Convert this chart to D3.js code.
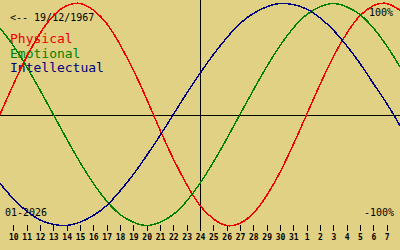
<!DOCTYPE html>
<html>
<head>
<meta charset="utf-8">
<script src="https://cdn.jsdelivr.net/npm/d3@7"></script>
<style>
  body { margin: 0; background: #e0d184; }
  svg { display: block; }
  text { font-family: "DejaVu Sans Mono", monospace; }
</style>
</head>
<body>
<div id="chart"></div>
<script>
// biorhythm for 24/01/2026, born 19/12/1967
const birthLabel = "<-- 19/12/1967";
const monthLabel = "01-2026";
const seriesNames = ["Physical", "Emotional", "Intellectual"];
const seriesColors = ["#ee0000", "#008000", "#000080"];
// tick labels (day of month), 10 Jan .. 7 Feb
const dayLabels = ["10","11","12","13","14","15","16","17","18","19","20","21","22","23","24",
  "25","26","27","28","29","30","31","1","2","3","4","5","6","7"];
// values per day, 9 Jan .. 8 Feb (one day past each edge)
const physical = [0, 0.27, 0.52, 0.73, 0.89, 0.98, 1.00, 0.94, 0.82, 0.63, 0.40, 0.14, -0.14, -0.40, -0.63,
  -0.82, -0.94, -1.00, -0.98, -0.89, -0.73, -0.52, -0.27, 0, 0.27, 0.52, 0.73, 0.89, 0.98, 1.00, 0.94];
const emotional = [0.78, 0.62, 0.43, 0.22, 0, -0.22, -0.43, -0.62, -0.78, -0.90, -0.97, -1.00, -0.97, -0.90, -0.78,
  -0.62, -0.43, -0.22, 0, 0.22, 0.43, 0.62, 0.78, 0.90, 0.97, 1.00, 0.97, 0.90, 0.78, 0.62, 0.43];
const intellectual = [-0.62, -0.76, -0.87, -0.95, -0.99, -1.00, -0.97, -0.91, -0.82, -0.69, -0.54, -0.37, -0.19, 0, 0.19,
  0.37, 0.54, 0.69, 0.82, 0.91, 0.97, 1.00, 0.99, 0.95, 0.87, 0.76, 0.62, 0.46, 0.28, 0.10, -0.10];
const todayIndex = 14;

const width = 400, height = 250;

const x = d3.scaleLinear().domain([-1, 29]).range([0, 400]);
const y = d3.scaleLinear().domain([-1, 1]).range([225.5, 3.5]);

const svg = d3.select("#chart").append("svg")
  .attr("width", width)
  .attr("height", height);

svg.append("rect").attr("width", width).attr("height", height).attr("fill", "#e0d184");

// zero line and today line
svg.append("line")
  .attr("x1", 0).attr("x2", width)
  .attr("y1", Math.round(y(0)) + 0.5).attr("y2", Math.round(y(0)) + 0.5)
  .attr("stroke", "black");
svg.append("line")
  .attr("x1", x(todayIndex) + 0.5).attr("x2", x(todayIndex) + 0.5)
  .attr("y1", 0).attr("y2", 231)
  .attr("stroke", "black");

// day axis
const axis = d3.axisBottom(x)
  .tickValues(d3.range(dayLabels.length))
  .tickFormat(i => dayLabels[i])
  .tickSize(6)
  .tickPadding(3);

const ax = svg.append("g")
  .attr("transform", "translate(0,225)")
  .call(axis);
ax.select(".domain").remove();
ax.selectAll("line").attr("stroke", "black").attr("shape-rendering", "crispEdges");
ax.selectAll("text")
  .attr("fill", "black")
  .style("font-size", "8px")
  .style("font-weight", "bold")
  .style("font-family", "'DejaVu Sans Mono', monospace");

// labels
svg.append("text").attr("x", 10).attr("y", 21).style("font-size", "10px").text(birthLabel);
svg.append("text").attr("x", 393).attr("y", 16).attr("text-anchor", "end").style("font-size", "10px").text("100%");
svg.append("text").attr("x", 394).attr("y", 216).attr("text-anchor", "end").style("font-size", "10px").text("-100%");
svg.append("text").attr("x", 5).attr("y", 216).style("font-size", "10px").text(monthLabel);

svg.selectAll(".name")
  .data(seriesNames)
  .join("text")
  .attr("class", "name")
  .attr("x", 10)
  .attr("y", (d, i) => 43 + i * 14.7)
  .attr("fill", (d, i) => seriesColors[i])
  .style("font-size", "13px")
  .text(d => d);

// curves
const line = d3.line()
  .x((d, i) => x(i - 1))
  .y(d => y(d))
  .curve(d3.curveNatural);

svg.selectAll(".curve")
  .data([physical, emotional, intellectual])
  .join("path")
  .attr("class", "curve")
  .attr("d", line)
  .attr("fill", "none")
  .attr("stroke", (d, i) => seriesColors[i])
  .attr("stroke-width", 1.5)
  .attr("shape-rendering", "crispEdges");
</script>
</body>
</html>
